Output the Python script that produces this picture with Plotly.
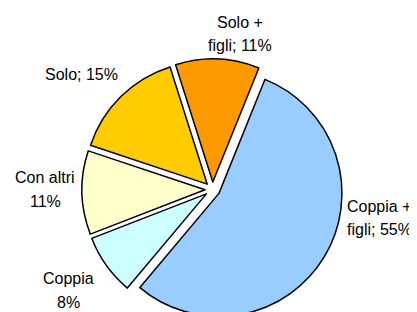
import plotly.graph_objects as go

# ---- data ----
categories = ["Coppia + figli", "Coppia", "Con altri", "Solo", "Solo + figli"]
shares = [55, 8, 11, 15, 11]
label_lines = [
    ["Coppia +", "figli; 55%"],
    ["Coppia", "8%"],
    ["Con altri", "11%"],
    ["Solo; 15%"],
    ["Solo +", "figli; 11%"],
]
colors = ["#99CCFF", "#CCFFFF", "#FFFFCC", "#FFCC00", "#FF9900"]

# page body has an 8px margin: work in page pixels and shift
OFF = 8
W, H = 417, 330
cx, cy, r, pull = 212.5 - OFF, 189.5 - OFF, 123.0, 0.061
half = r * (1 + pull)

fig = go.Figure(go.Pie(
    labels=categories,
    values=shares,
    sort=False,
    direction="clockwise",
    rotation=22,
    pull=[pull] * len(shares),
    marker=dict(colors=colors, line=dict(color="#000000", width=1.5)),
    textinfo="none",
    hoverinfo="label+percent",
    showlegend=False,
    domain=dict(x=[(cx - half) / W, (cx + half) / W],
                y=[1 - (cy + half) / H, 1 - (cy - half) / H]),
))

# label positions (page-pixel centres of each text line)
label_pos = [
    (379, [206, 229]),
    (68.5, [278, 302]),
    (45, [177, 201]),
    (81, [75]),
    (240, [22, 46]),
]
for lines, (lx, ys) in zip(label_lines, label_pos):
    for txt, ly in zip(lines, ys):
        fig.add_annotation(
            x=(lx - OFF) / W, y=1 - (ly - OFF) / H, xref="paper", yref="paper",
            text=txt, showarrow=False, xanchor="center", yanchor="middle",
            font=dict(family="Liberation Sans, Arial, sans-serif", size=16, color="#000000"),
        )

fig.update_layout(
    width=W, height=H,
    margin=dict(l=0, r=0, t=0, b=0),
    paper_bgcolor="#FFFFFF",
    plot_bgcolor="#FFFFFF",
)
fig.write_html("out.html")
